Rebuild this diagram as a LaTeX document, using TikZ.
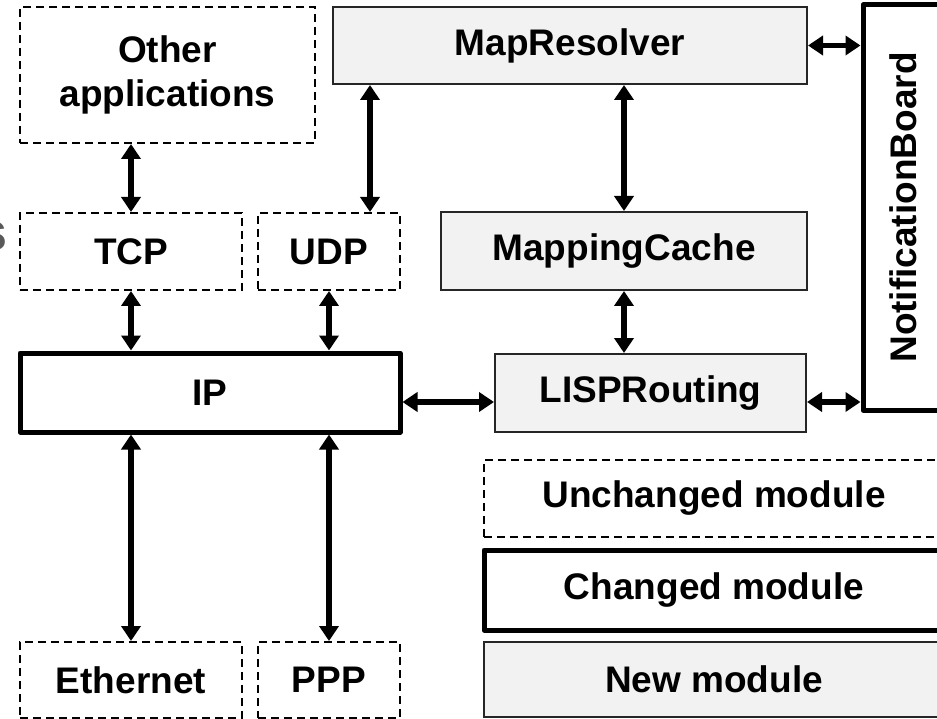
\documentclass[tikz,border=0pt]{standalone}
\usepackage{fontspec}
\setmainfont{Liberation Sans}
\usetikzlibrary{arrows.meta,positioning}
\definecolor{boxgray}{RGB}{242,242,242}

\begin{document}
\begin{tikzpicture}[x=1pt, y=-1pt, semithick]
	\tikzstyle{module} = [rectangle, inner sep=0pt, align=center, font={\fontsize{37}{44}\selectfont\bfseries}]
	\tikzstyle{unchangedbox} = [module, draw, line width=2pt, dash pattern=on 8pt off 5pt];
	\tikzstyle{changedbox} = [module, draw, line width=5pt, line join=round];
	\tikzstyle{newbox} = [module, draw=black!85, line width=2pt, fill=boxgray];
	\tikzstyle{link} = [draw, line width=5.5pt, {Triangle[length=15pt,width=19pt]}-{Triangle[length=15pt,width=19pt]}];

	\useasboundingbox (0,0) rectangle (937,719);

	% stack on the left
	\node[unchangedbox, minimum width=295pt, minimum height=136pt](apps) at (167.5,75) {Other\\applications};
	\node[unchangedbox, minimum width=222pt, minimum height=77pt](tcp) at (131,251.5) {TCP};
	\node[unchangedbox, minimum width=142pt, minimum height=77pt](udp) at (329,251.5) {UDP};
	\node[changedbox, minimum width=380pt, minimum height=79pt](ip) at (210,392.5) {IP};
	\node[unchangedbox, minimum width=222pt, minimum height=76pt](eth) at (131,680) {Ethernet};
	\node[unchangedbox, minimum width=142pt, minimum height=76pt](ppp) at (329,680) {PPP};
	\node[anchor=east, inner sep=0pt, text=black!65, font={\fontsize{54}{60}\selectfont\bfseries}](cut) at (8,236) {s};

	% LISP modules
	\node[newbox, minimum width=474pt, minimum height=77pt](mapres) at (570,45.5) {MapResolver};
	\node[newbox, minimum width=366pt, minimum height=78pt](mapcache) at (624,251) {MappingCache};
	\node[newbox, minimum width=311pt, minimum height=78pt](lisp) at (650.5,393) {LISPRouting};
	\node[changedbox, rotate=90, minimum width=405pt, minimum height=80pt](nb) at (903,207.5) {NotificationBoard};

	% legend
	\node[unchangedbox, minimum width=460pt, minimum height=77pt](unch) at (714,498.5) {Unchanged module};
	\node[changedbox, minimum width=460pt, minimum height=80pt](chg) at (714,590) {Changed module};
	\node[newbox, minimum width=460pt, minimum height=75pt](newm) at (714,679.5) {New module};

	\draw[link] (apps.south -| tcp.north) -- (tcp.north);
	\draw[link] (tcp.south) -- (tcp.south |- ip.north);
	\draw[link] (udp.south) -- (udp.south |- ip.north);
	\draw[link] ([xshift=41pt]udp.north) -- ([xshift=41pt]udp.north |- mapres.south);
	\draw[link] (mapcache.north) -- (mapcache.north |- mapres.south);
	\draw[link] (mapcache.south) -- (mapcache.south |- lisp.north);
	\draw[link] ([yshift=-9pt]lisp.west) -- ([yshift=-9pt]lisp.west -| ip.east);
	\draw[link] ([yshift=-9pt]lisp.east) -- ([yshift=-9pt]lisp.east -| nb.north);
	\draw[link] (mapres.east) -- (mapres.east -| nb.north);
	\draw[link] (eth.north) -- (eth.north |- ip.south);
	\draw[link] (ppp.north) -- (ppp.north |- ip.south);
\end{tikzpicture}
\end{document}
